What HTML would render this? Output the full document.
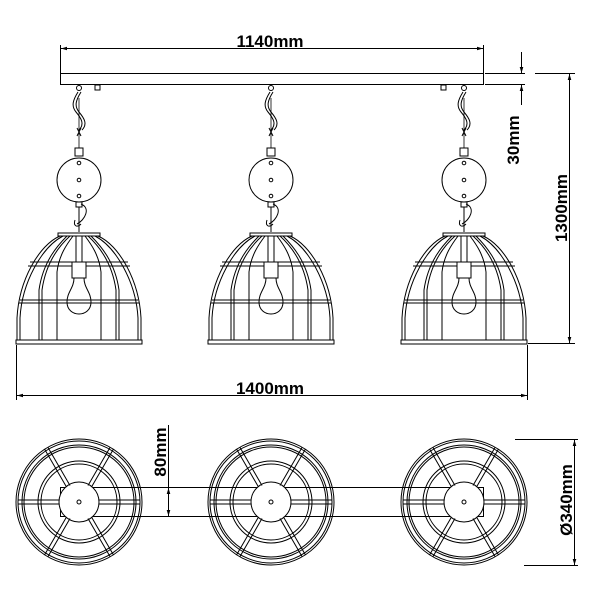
<!DOCTYPE html>
<html><head><meta charset="utf-8"><style>
html,body{margin:0;padding:0;background:#fff;}
svg{display:block;}
text{font-family:"Liberation Sans",Arial,sans-serif;font-weight:bold;font-size:17px;fill:#000;}
</style></head><body>
<svg width="600" height="600" viewBox="0 0 600 600" xmlns="http://www.w3.org/2000/svg">
<defs>
<marker id="a" viewBox="0 0 10 10" refX="10" refY="5" markerWidth="9" markerHeight="6" orient="auto-start-reverse" markerUnits="userSpaceOnUse"><path d="M0,2 L10,5 L0,8 z" fill="#000"/></marker>
<g id="lamp" fill="none" stroke="#000" stroke-width="1">
  <circle cx="0" cy="88" r="2.5"/>
  <path d="M-1,92 C-6,100 -8,106 -3,112 C2,118 6,124 0,130"/>
  <path d="M2,92 C-3,100 -5,106 0,112 C5,118 9,124 3,130"/>
  <path d="M-2,128 L2,136 M2,128 L-2,136"/>
  <path d="M0,98 L0,150" stroke-width="0.8"/>
  <rect x="-4" y="148" width="8" height="8" fill="#fff"/>
  <circle cx="0" cy="180" r="22" fill="#fff"/>
  <circle cx="0" cy="163" r="1.8"/><circle cx="0" cy="180" r="1.8"/><circle cx="0" cy="196" r="1.8"/>
  <rect x="-3" y="202" width="6" height="5"/>
  <path d="M0,207 L0,232 M2,204 C12,208 6,220 -2,224"/>
  <path d="M-4,220 C-6,226 -2,228 2,224"/>
  <rect x="-21" y="233" width="42" height="3" fill="#fff"/>
  <path d="M-62,343 L-62,318 C-60,280 -40,245 -19,236"/>
  <path d="M62,343 L62,318 C60,280 40,245 19,236"/>
  <path d="M-59,343 L-59,318 C-57,282 -37,247 -16,236"/>
  <path d="M59,343 L59,318 C57,282 37,247 16,236"/>
  <path d="M-40,340 L-40,290 C-36,262 -22,246 -12,236"/>
  <path d="M-37,340 L-37,290 C-33,262 -20,246 -9,236"/>
  <path d="M40,340 L40,290 C36,262 22,246 12,236"/>
  <path d="M37,340 L37,290 C33,262 20,246 9,236"/>
  <path d="M-22,340 L-22,272 C-20,255 -12,244 -6,236"/>
  <path d="M22,340 L22,272 C20,255 12,244 6,236"/>
  <path d="M-49,262 L49,262 M-51,266 L51,266"/>
  <path d="M-59,300 L59,300 M-60,303 L60,303"/>
  <rect x="-63" y="340" width="126" height="4" fill="#fff"/>
  <path d="M-3,236 L-3,262 M3,236 L3,262"/>
  <rect x="-7" y="262" width="14" height="16" fill="#fff"/>
  <path d="M-5,278 C-5,288 -12,292 -12,302 C-12,310 -6,314 0,314 C6,314 12,310 12,302 C12,292 5,288 5,278"/>
</g>
<g id="top" fill="none" stroke="#000" stroke-width="1">
  <circle r="63"/><circle r="61"/><circle r="57"/><circle r="55"/>
  <circle r="41"/><circle r="38"/>
  <circle r="20" fill="#fff"/>
  <circle r="2"/>
  <path d="M-61,-2 L-20,-2 M-61,2 L-20,2 M61,-2 L20,-2 M61,2 L20,2"/>
  <g id="sp"><path d="M-9,-16.5 L-31,-54.5 M-12.5,-15 L-34.5,-53"/></g>
  <use href="#sp" transform="scale(-1,1)"/>
  <use href="#sp" transform="scale(1,-1)"/>
  <use href="#sp" transform="scale(-1,-1)"/>
</g>
</defs>

<g stroke="#000" stroke-width="1" fill="none">
  <rect x="60.5" y="73.5" width="423" height="11" fill="#fff"/>
  <rect x="95" y="85" width="5" height="5"/>
  <rect x="441" y="85" width="5" height="5"/>
  <path d="M60.5,45 L60.5,73 M483.5,45 L483.5,73"/>
  <path d="M61,48.5 L483,48.5" marker-start="url(#a)" marker-end="url(#a)"/>
  <path d="M485,73.5 L525,73.5 M485,84.5 L525,84.5"/>
  <path d="M521.5,52 L521.5,73" marker-end="url(#a)"/>
  <path d="M521.5,105 L521.5,85" marker-end="url(#a)"/>
  <path d="M535,73.5 L575,73.5 M528,343.5 L575,343.5"/>
  <path d="M569.5,74 L569.5,343" marker-start="url(#a)" marker-end="url(#a)"/>
  <path d="M16.5,345 L16.5,400 M527.5,345 L527.5,400"/>
  <path d="M17,395.5 L527,395.5" marker-start="url(#a)" marker-end="url(#a)"/>
</g>
<use href="#lamp" x="79"/>
<use href="#lamp" x="271"/>
<use href="#lamp" x="464"/>

<g stroke="#000" stroke-width="1" fill="none">
  <rect x="60.5" y="487.5" width="423" height="29"/>
</g>
<use href="#top" x="79" y="502"/>
<use href="#top" x="271" y="502"/>
<use href="#top" x="464" y="502"/>
<g stroke="#000" stroke-width="1" fill="none">
  <path d="M168.5,425 L168.5,517"/>
  <path d="M168.5,502 L168.5,488" marker-end="url(#a)"/>
  <path d="M168.5,502 L168.5,516" marker-end="url(#a)"/>
  <path d="M515,439.5 L578,439.5 M524,565.5 L578,565.5"/>
  <path d="M574.5,440 L574.5,565" marker-start="url(#a)" marker-end="url(#a)"/>
</g>

<text x="270" y="47" text-anchor="middle">1140mm</text>
<text x="270" y="394" text-anchor="middle">1400mm</text>
<text transform="translate(519,140) rotate(-90)" text-anchor="middle">30mm</text>
<text transform="translate(567,208) rotate(-90)" text-anchor="middle">1300mm</text>
<text transform="translate(166,452) rotate(-90)" text-anchor="middle">80mm</text>
<text transform="translate(572,500) rotate(-90)" text-anchor="middle">Ø340mm</text>
</svg>
</body></html>
